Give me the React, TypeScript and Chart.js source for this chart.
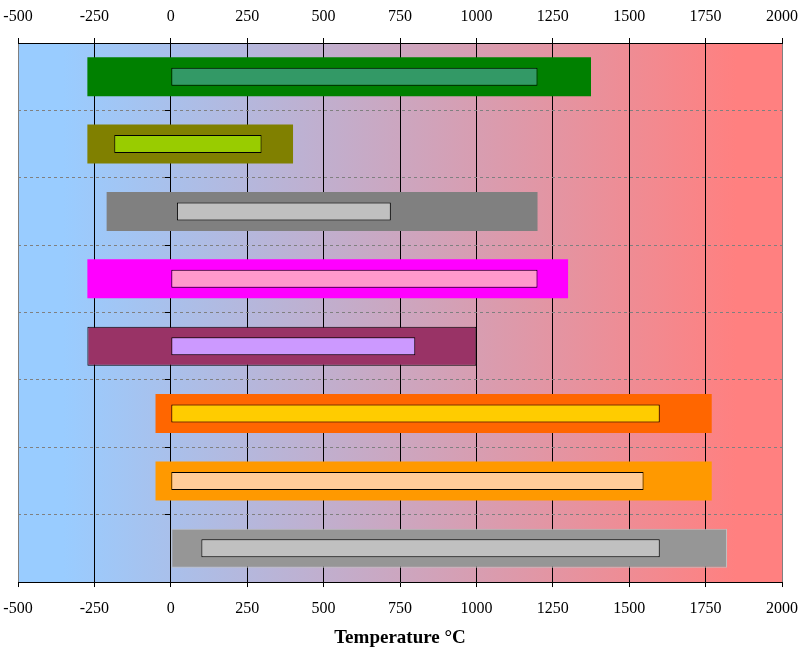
import React, { useEffect, useRef } from "react";
import { Chart, registerables } from "chart.js";

Chart.register(...registerables);

const categories = ["Row 1", "Row 2", "Row 3", "Row 4", "Row 5", "Row 6", "Row 7", "Row 8"];
const outerStart = [-273, -273, -210, -273, -273, -50, -50, 0];
const outerEnd = [1375, 400, 1200, 1300, 1000, 1770, 1770, 1820];
const innerStart = [0, -185, 20, 0, 0, 0, 0, 100];
const innerEnd = [1200, 297, 720, 1200, 800, 1600, 1547, 1600];
const outerColors = ["#008000", "#808000", "#808080", "#FF00FF", "#993366", "#FF6600", "#FF9900", "#969696"];
const outerBorderColors = ["#008000", "#808000", "#808080", "#FF00FF", "#000000", "#FF6600", "#FF9900", "#C0C0C0"];
const outerBorderWidths = [0, 0, 0, 0, 1, 0, 0, 1];
const innerColors = ["#339966", "#99CC00", "#C0C0C0", "#FF99CC", "#CC99FF", "#FFCC00", "#FFCC99", "#C0C0C0"];
const xTicksMin = -500;
const xTicksMax = 2000;
const xStep = 250;
const axisTitle = "Temperature °C";

const bgPlugin = {
  id: "bgGradient",
  beforeDraw(chart: any) {
    const { ctx, chartArea } = chart;
    if (!chartArea) return;
    const g = ctx.createLinearGradient(chartArea.left, 0, chartArea.right, 0);
    g.addColorStop(0, "#99CCFF");
    g.addColorStop(0.06, "#99CCFF");
    g.addColorStop(0.94, "#FF8080");
    g.addColorStop(1, "#FF8080");
    ctx.save();
    ctx.fillStyle = g;
    ctx.fillRect(chartArea.left, chartArea.top, chartArea.right - chartArea.left, chartArea.bottom - chartArea.top);
    ctx.restore();
  },
};

export default function App() {
  const ref = useRef<HTMLCanvasElement>(null);
  useEffect(() => {
    if (!ref.current) return;
    const font = "'Liberation Serif', 'Times New Roman', serif";
    const edgeColor = (c: any) => {
      const v = c.tick ? c.tick.value : undefined;
      return v === xTicksMin || v === xTicksMax ? "#808080" : "#000000";
    };
    const fmt = (v: any) => String(v);
    const chart = new Chart(ref.current, {
      type: "bar",
      data: {
        labels: categories,
        datasets: [
          {
            label: "inner",
            data: categories.map((_, i) => [innerStart[i], innerEnd[i]]) as any,
            backgroundColor: innerColors,
            borderColor: "#000000",
            borderWidth: 1,
            borderSkipped: false,
            grouped: false,
            categoryPercentage: 1,
            barPercentage: 0.267,
            order: 0,
          } as any,
          {
            label: "outer",
            data: categories.map((_, i) => [outerStart[i], outerEnd[i]]) as any,
            backgroundColor: outerColors,
            borderColor: outerBorderColors,
            borderWidth: outerBorderWidths,
            borderSkipped: false,
            grouped: false,
            categoryPercentage: 1,
            barPercentage: 0.579,
            order: 1,
          } as any,
        ],
      },
      options: {
        indexAxis: "y",
        animation: false,
        responsive: true,
        maintainAspectRatio: false,
        layout: { padding: { left: 18, right: 19, top: -5, bottom: 2 } },
        plugins: { legend: { display: false }, tooltip: { enabled: false } },
        scales: {
          x: {
            type: "linear",
            position: "bottom",
            min: xTicksMin,
            max: xTicksMax,
            ticks: { stepSize: xStep, color: "#000", font: { family: font, size: 16, lineHeight: 2.66 }, padding: 0, maxRotation: 0, callback: fmt },
            grid: { color: edgeColor, tickColor: "#000", tickLength: 5, lineWidth: 1 },
            border: { color: "#000", width: 1 },
            title: { display: true, text: axisTitle, color: "#000", font: { family: font, size: 19, weight: "bold", lineHeight: 1.2 }, padding: { top: -3.4, bottom: 0 } },
          },
          x2: {
            type: "linear",
            position: "top",
            min: xTicksMin,
            max: xTicksMax,
            ticks: { stepSize: xStep, color: "#000", font: { family: font, size: 16, lineHeight: 2.6875 }, padding: 0, maxRotation: 0, callback: fmt },
            grid: { drawOnChartArea: false, tickColor: "#000", tickLength: 5 },
            border: { color: "#000", width: 1 },
          },
          y: {
            type: "category",
            position: { x: 0 } as any,
            offset: true,
            z: 1,
            ticks: { display: false },
            grid: {
              offset: true,
              color: (c: any) => (c.index === 0 || c.index === categories.length ? "rgba(0,0,0,0)" : "#808080"),
              tickColor: (c: any) => (c.index === 0 || c.index === categories.length ? "rgba(0,0,0,0)" : "#000"),
              tickLength: 5,
              lineWidth: 1,
            },
            border: { display: true, color: "#000", width: 1, dash: [3, 3] },
          },
        },
      } as any,
      plugins: [bgPlugin],
    });
    return () => chart.destroy();
  }, []);
  return (
    <div style={{ position: "absolute", left: 0, top: 0, width: 801, height: 651 }}>
      <canvas ref={ref} />
    </div>
  );
}
